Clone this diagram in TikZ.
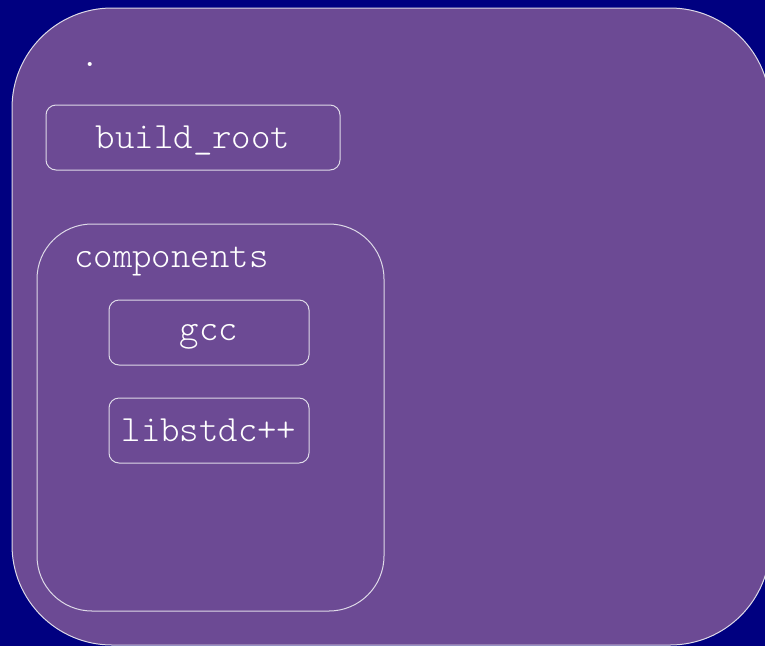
\documentclass[tikz,border=0pt]{standalone}
\definecolor{navy}{RGB}{0,0,128}
\definecolor{grape}{RGB}{108,74,148}
\definecolor{edge}{RGB}{222,218,232}
\tikzset{
  dirbox/.style={draw=edge, line width=1pt, rounded corners=10pt, minimum height=65pt,
    text=white, font=\ttfamily\fontseries{l}\fontsize{37}{40}\selectfont},
  dirlabel/.style={text=white, inner sep=0pt, font=\ttfamily\fontseries{l}\fontsize{37}{40}\selectfont}
}
\begin{document}
\begin{tikzpicture}[x=1pt,y=-1pt]
	\useasboundingbox (0,0) rectangle (765,646);
	\fill[navy] (0,0) rectangle (765,646);
	% top folder
	\draw[fill=grape,draw=edge,line width=1pt,rounded corners=100pt] (12,8) rectangle (770,645);
	\node[dirlabel,anchor=base] (top) at (90,66) {.};
	\node[dirbox,minimum width=294pt,text depth=0pt] (buildroot) at (193,137.5) {build\_root};
	% components folder
	\node[draw=edge,line width=1pt,rounded corners=55pt,minimum width=347pt,minimum height=387pt] (components) at (210.5,417.5) {};
	\node[dirlabel,anchor=base west] (complabel) at (74,267) {components};
	\node[dirbox,minimum width=200pt,text depth=0pt] (gcc) at (209,332.5) {gcc};
	\node[dirbox,minimum width=200pt] (libstdc) at (209,430.5) {libstdc++};
\end{tikzpicture}
\end{document}
